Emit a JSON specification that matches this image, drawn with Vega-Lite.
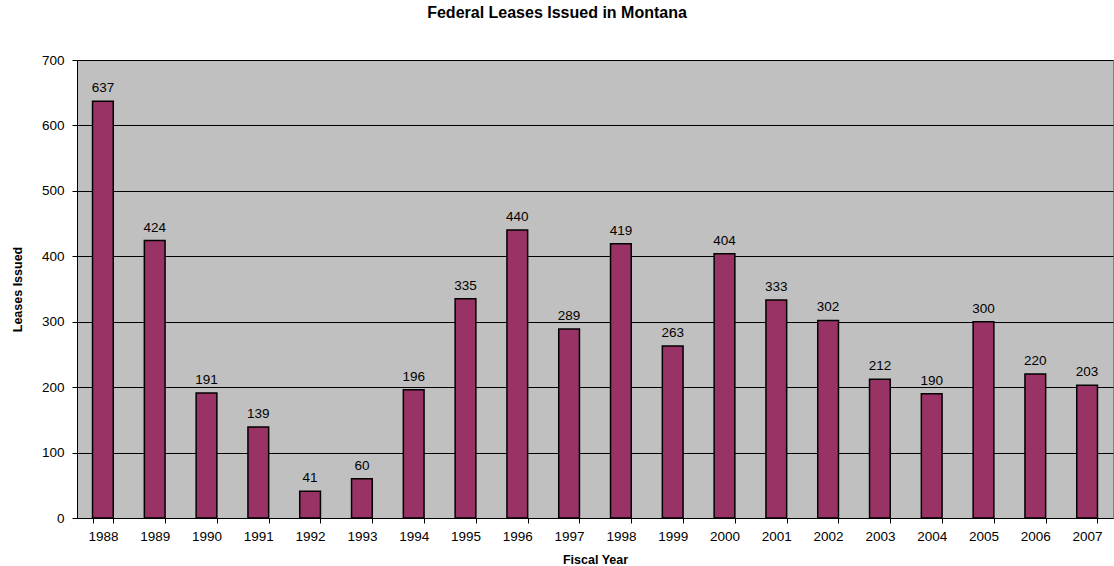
{
  "$schema": "https://vega.github.io/schema/vega-lite/v6.json",
  "width": 1036,
  "height": 458,
  "autosize": {"type": "none"},
  "padding": {"left": 77, "top": 60, "right": 1, "bottom": 48},
  "background": "white",
  "title": {"text": "Federal Leases Issued in Montana", "font": "Liberation Sans", "fontSize": 16, "fontWeight": "bold", "color": "black", "offset": 32, "anchor": "middle", "dx": -38},
  "config": {
    "view": {"fill": "#C0C0C0", "stroke": "#808080", "strokeWidth": 1},
    "axis": {"labelFont": "Liberation Sans", "titleFont": "Liberation Sans", "labelColor": "black", "titleColor": "black", "domainColor": "black", "tickColor": "black"}
  },
  "data": {"values": [
    {"year": "1988", "leases": 637},
    {"year": "1989", "leases": 424},
    {"year": "1990", "leases": 191},
    {"year": "1991", "leases": 139},
    {"year": "1992", "leases": 41},
    {"year": "1993", "leases": 60},
    {"year": "1994", "leases": 196},
    {"year": "1995", "leases": 335},
    {"year": "1996", "leases": 440},
    {"year": "1997", "leases": 289},
    {"year": "1998", "leases": 419},
    {"year": "1999", "leases": 263},
    {"year": "2000", "leases": 404},
    {"year": "2001", "leases": 333},
    {"year": "2002", "leases": 302},
    {"year": "2003", "leases": 212},
    {"year": "2004", "leases": 190},
    {"year": "2005", "leases": 300},
    {"year": "2006", "leases": 220},
    {"year": "2007", "leases": 203}
  ]},
  "encoding": {
    "x": {"field": "year", "type": "nominal", "scale": {"paddingInner": 0.6, "paddingOuter": 0.3},
      "axis": {"title": "Fiscal Year", "titleFontSize": 12.5, "titleFontWeight": "bold", "titlePadding": 11, "labelAngle": 0, "labelFontSize": 13.5, "labelPadding": 6, "tickBand": "extent", "tickSize": 5, "grid": false, "domainColor": "black"}},
    "y": {"field": "leases", "type": "quantitative", "scale": {"domain": [0, 700]},
      "axis": {"title": "Leases Issued", "titleFontSize": 12.5, "titleFontWeight": "bold", "titlePadding": 17, "values": [0, 100, 200, 300, 400, 500, 600, 700], "labelFontSize": 13.5, "labelPadding": 8, "tickSize": 5, "grid": true, "gridColor": "black", "gridOpacity": 1, "gridWidth": 1}}
  },
  "layer": [
    {"mark": {"type": "bar", "fill": "#993366", "stroke": "black", "strokeWidth": 1.5}},
    {"mark": {"type": "text", "dy": -13, "font": "Liberation Sans", "fontSize": 13.5, "color": "black"}, "encoding": {"text": {"field": "leases"}}}
  ]
}
